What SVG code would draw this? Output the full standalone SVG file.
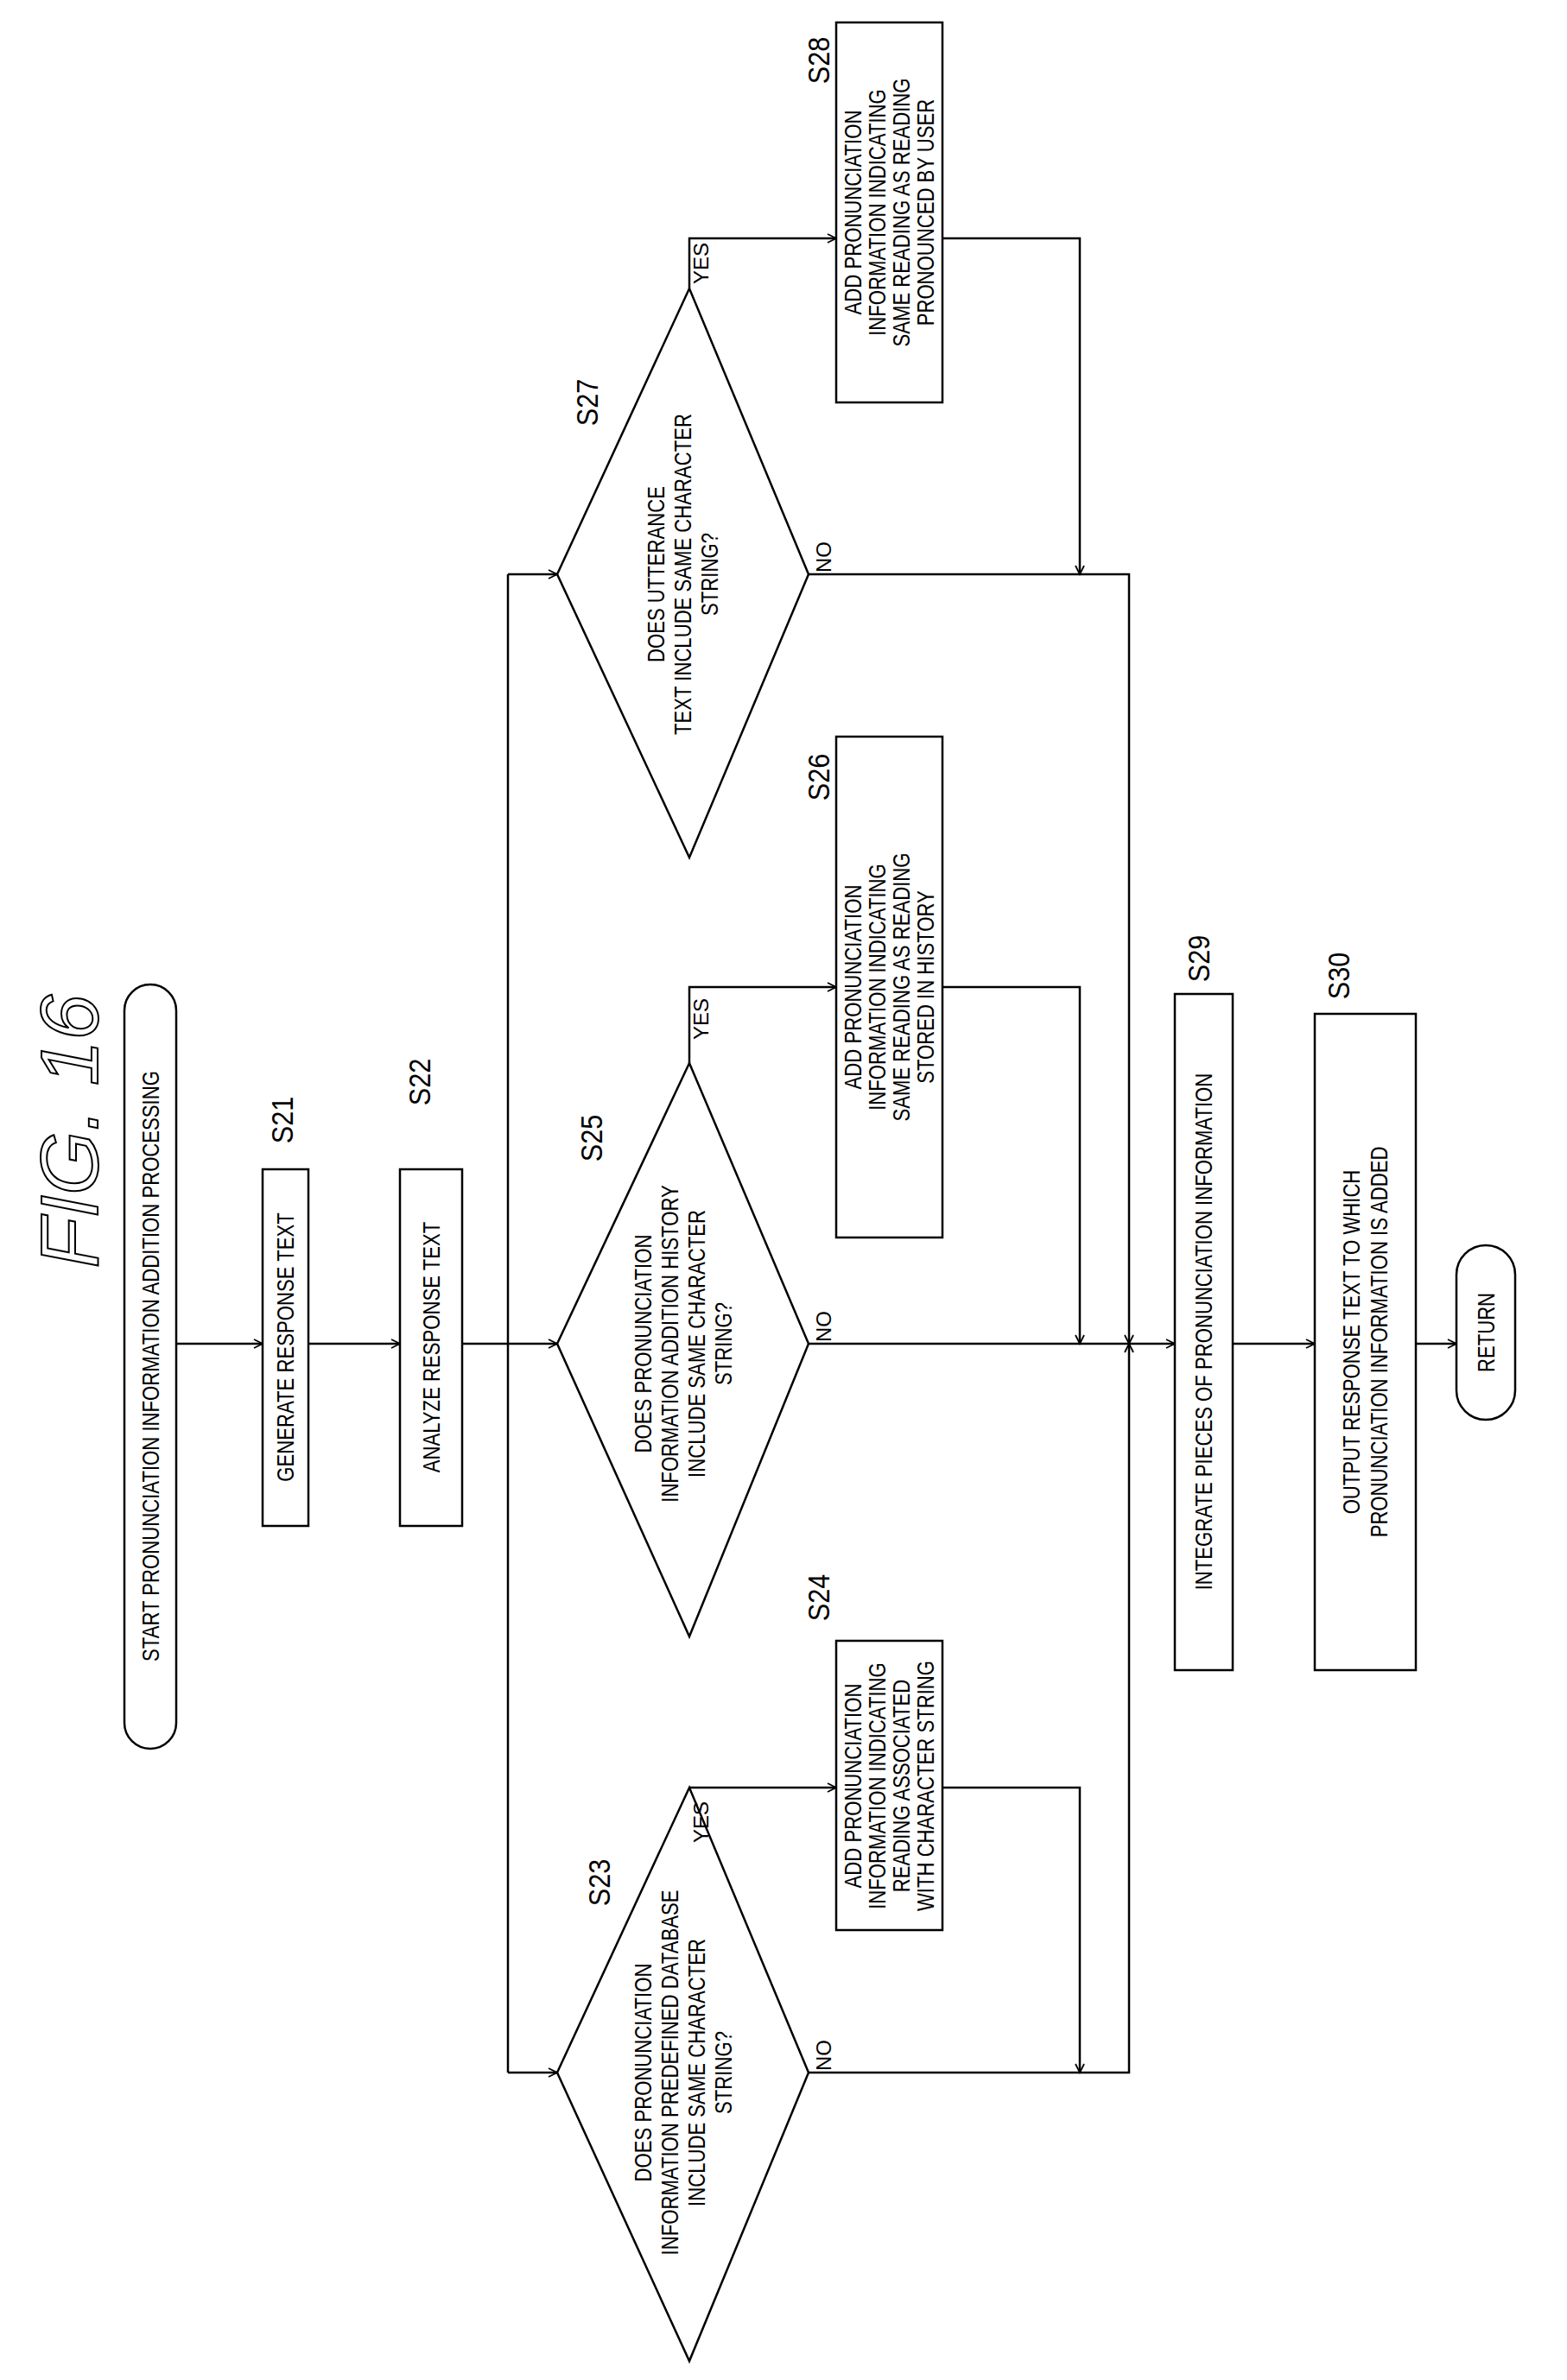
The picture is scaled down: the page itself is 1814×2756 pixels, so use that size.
<svg xmlns="http://www.w3.org/2000/svg" width="1814" height="2756" viewBox="0 0 1814 2756">
<defs>
<marker id="ar" markerWidth="14" markerHeight="14" refX="12" refY="7" orient="auto" markerUnits="userSpaceOnUse">
<path d="M2,2 L12,7 L2,12" fill="none" stroke="#000" stroke-width="1.8"/>
</marker>
<style>
.b{fill:#fff;stroke:#000;stroke-width:2.5}
.c{fill:none;stroke:#000;stroke-width:2.5}
.t{font-family:"Liberation Sans",Arial,sans-serif;font-size:27px;fill:#000;text-anchor:middle}
.l{font-family:"Liberation Sans",Arial,sans-serif;font-size:36px;fill:#000;text-anchor:middle}
.y{font-family:"Liberation Sans",Arial,sans-serif;font-size:24px;fill:#000;text-anchor:middle}
</style>
</defs>
<rect width="1814" height="2756" fill="#fff"/>
<text transform="translate(80,1310) rotate(-90)" font-family="Liberation Sans,Arial,sans-serif" font-style="italic" font-size="95" text-anchor="middle" dy="33" fill="none" stroke="#000" stroke-width="2">FIG. 16</text>

<g id="connectors" class="c">
<path d="M198,1556H304" marker-end="url(#ar)"/>
<path d="M357,1556H463" marker-end="url(#ar)"/>
<path d="M535,1556H645" marker-end="url(#ar)"/>
<path d="M588,665V2400"/>
<path d="M588,665H645" marker-end="url(#ar)"/>
<path d="M588,2400H645" marker-end="url(#ar)"/>
<path d="M798,334V276H968" marker-end="url(#ar)"/>
<path d="M1091,276H1250V665" marker-end="url(#ar)"/>
<path d="M936,665H1307V1556" marker-end="url(#ar)"/>
<path d="M798,1231V1143H968" marker-end="url(#ar)"/>
<path d="M1091,1143H1250V1556" marker-end="url(#ar)"/>
<path d="M936,1556H1307"/>
<path d="M1307,1556H1360" marker-end="url(#ar)"/>
<path d="M798,2070H968" marker-end="url(#ar)"/>
<path d="M1091,2070H1250V2400" marker-end="url(#ar)"/>
<path d="M936,2400H1307V1556" marker-end="url(#ar)"/>
<path d="M1427,1556H1522" marker-end="url(#ar)"/>
<path d="M1639,1556H1686" marker-end="url(#ar)"/>
</g>

<g id="start">
<rect class="b" x="144" y="1140" width="60" height="885" rx="30"/>
<text class="t" transform="translate(174,1582) rotate(-90) scale(0.82,1)" dy="10">START PRONUNCIATION INFORMATION ADDITION PROCESSING</text>
</g>
<g id="S21">
<rect class="b" x="304" y="1354" width="53" height="413"/>
<text class="t" transform="translate(330,1560) rotate(-90) scale(0.82,1)" dy="10">GENERATE RESPONSE TEXT</text>
<text class="l" transform="translate(327,1297) rotate(-90) scale(0.85,1)" dy="12">S21</text>
</g>
<g id="S22">
<rect class="b" x="463" y="1354" width="72" height="413"/>
<text class="t" transform="translate(499,1560) rotate(-90) scale(0.82,1)" dy="10">ANALYZE RESPONSE TEXT</text>
<text class="l" transform="translate(486,1253) rotate(-90) scale(0.85,1)" dy="12">S22</text>
</g>
<g id="S27">
<path class="b" d="M645,665L798,334L936,665L798,993Z"/>
<text class="t" transform="translate(790,665) rotate(-90) scale(0.82,1)"><tspan x="0" dy="-21">DOES UTTERANCE</tspan><tspan x="0" dy="31">TEXT INCLUDE SAME CHARACTER</tspan><tspan x="0" dy="31">STRING?</tspan></text>
<text class="l" transform="translate(680,466) rotate(-90) scale(0.85,1)" dy="12">S27</text>
</g>
<g id="S25">
<path class="b" d="M645,1556L798,1231L936,1556L798,1895Z"/>
<text class="t" transform="translate(790,1556) rotate(-90) scale(0.82,1)"><tspan x="0" dy="-36">DOES PRONUNCIATION</tspan><tspan x="0" dy="31">INFORMATION ADDITION HISTORY</tspan><tspan x="0" dy="31">INCLUDE SAME CHARACTER</tspan><tspan x="0" dy="31">STRING?</tspan></text>
<text class="l" transform="translate(685,1318) rotate(-90) scale(0.85,1)" dy="12">S25</text>
</g>
<g id="S23">
<path class="b" d="M645,2400L798,2070L936,2400L798,2734Z"/>
<text class="t" transform="translate(790,2400) rotate(-90) scale(0.82,1)"><tspan x="0" dy="-36">DOES PRONUNCIATION</tspan><tspan x="0" dy="31">INFORMATION PREDEFINED DATABASE</tspan><tspan x="0" dy="31">INCLUDE SAME CHARACTER</tspan><tspan x="0" dy="31">STRING?</tspan></text>
<text class="l" transform="translate(694,2180) rotate(-90) scale(0.85,1)" dy="12">S23</text>
</g>
<g id="S28">
<rect class="b" x="968" y="26" width="123" height="440"/>
<text class="t" transform="translate(1029,246) rotate(-90) scale(0.82,1)"><tspan x="0" dy="-32">ADD PRONUNCIATION</tspan><tspan x="0" dy="28">INFORMATION INDICATING</tspan><tspan x="0" dy="28">SAME READING AS READING</tspan><tspan x="0" dy="28">PRONOUNCED BY USER</tspan></text>
<text class="l" transform="translate(948,70) rotate(-90) scale(0.85,1)" dy="12">S28</text>
</g>
<g id="S26">
<rect class="b" x="968" y="853" width="123" height="580"/>
<text class="t" transform="translate(1029,1143) rotate(-90) scale(0.82,1)"><tspan x="0" dy="-32">ADD PRONUNCIATION</tspan><tspan x="0" dy="28">INFORMATION INDICATING</tspan><tspan x="0" dy="28">SAME READING AS READING</tspan><tspan x="0" dy="28">STORED IN HISTORY</tspan></text>
<text class="l" transform="translate(948,900) rotate(-90) scale(0.85,1)" dy="12">S26</text>
</g>
<g id="S24">
<rect class="b" x="968" y="1900" width="123" height="335"/>
<text class="t" transform="translate(1029,2068) rotate(-90) scale(0.82,1)"><tspan x="0" dy="-32">ADD PRONUNCIATION</tspan><tspan x="0" dy="28">INFORMATION INDICATING</tspan><tspan x="0" dy="28">READING ASSOCIATED</tspan><tspan x="0" dy="28">WITH CHARACTER STRING</tspan></text>
<text class="l" transform="translate(948,1850) rotate(-90) scale(0.85,1)" dy="12">S24</text>
</g>
<g id="S29">
<rect class="b" x="1360" y="1151" width="67" height="783"/>
<text class="t" transform="translate(1393,1542) rotate(-90) scale(0.82,1)" dy="10">INTEGRATE PIECES OF PRONUNCIATION INFORMATION</text>
<text class="l" transform="translate(1388,1110) rotate(-90) scale(0.85,1)" dy="12">S29</text>
</g>
<g id="S30">
<rect class="b" x="1522" y="1174" width="117" height="760"/>
<text class="t" transform="translate(1580,1554) rotate(-90) scale(0.82,1)"><tspan x="0" dy="-6">OUTPUT RESPONSE TEXT TO WHICH</tspan><tspan x="0" dy="32">PRONUNCIATION INFORMATION IS ADDED</tspan></text>
<text class="l" transform="translate(1550,1130) rotate(-90) scale(0.85,1)" dy="12">S30</text>
</g>
<g id="return">
<rect class="b" x="1686" y="1442" width="68" height="202" rx="34"/>
<text class="t" transform="translate(1720,1543) rotate(-90) scale(0.82,1)" dy="10">RETURN</text>
</g>
<g id="branch-labels" class="y">
<text transform="translate(820,305) rotate(-90)">YES</text>
<text transform="translate(820,1180) rotate(-90)">YES</text>
<text transform="translate(820,2110) rotate(-90)">YES</text>
<text transform="translate(962,645) rotate(-90)">NO</text>
<text transform="translate(962,1536) rotate(-90)">NO</text>
<text transform="translate(962,2380) rotate(-90)">NO</text>
</g>
</svg>
